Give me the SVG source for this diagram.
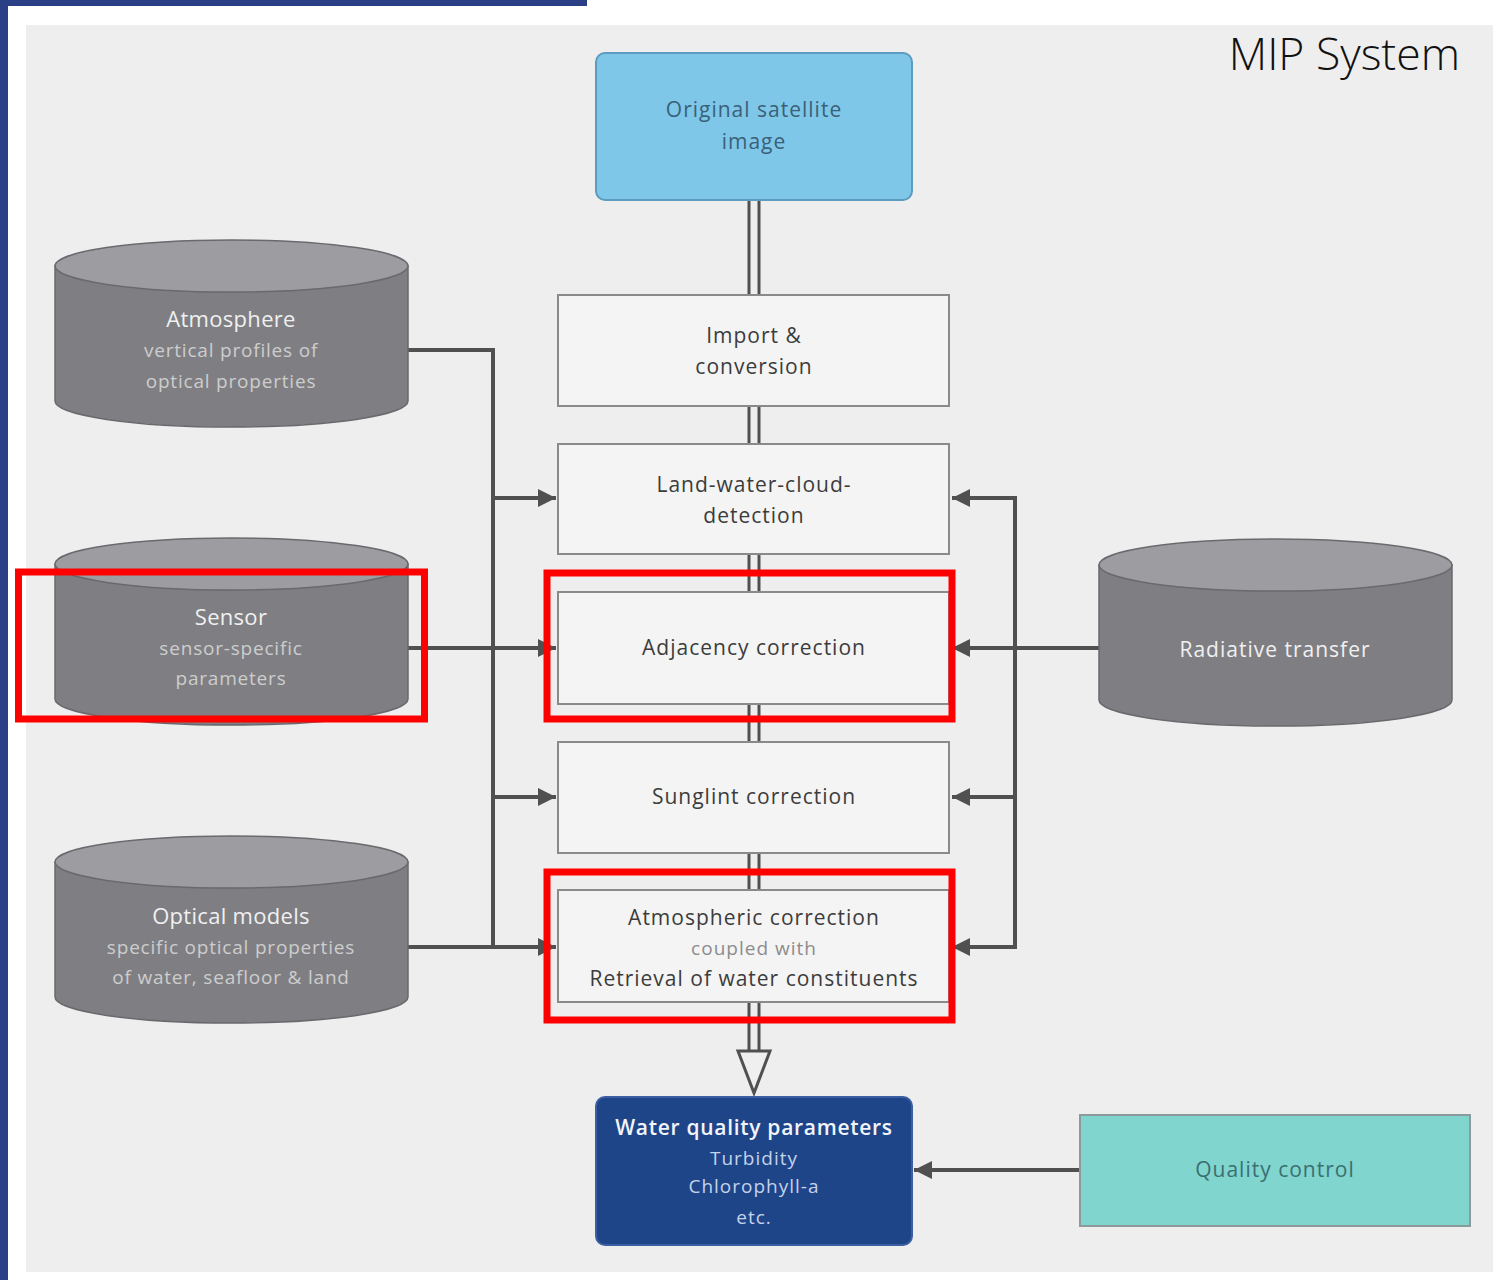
<svg xmlns="http://www.w3.org/2000/svg" width="1493" height="1280" viewBox="0 0 1493 1280">
<defs>
<marker id="ah" viewBox="0 0 10 10" refX="10" refY="5" markerWidth="5" markerHeight="4.5" markerUnits="strokeWidth" orient="auto">
<path d="M0,0 L10,5 L0,10 Z" fill="#505050"/>
</marker>
</defs>
<style>
.proc{fill:#f4f4f4;stroke:#8a8a8a;stroke-width:2}
.pt{font-family:"Open Sans","Noto Sans",sans-serif;font-size:21px;fill:#3c3c3c;text-anchor:middle;letter-spacing:1px}
.cylb{fill:#7f7f83;stroke:#6a6a6e;stroke-width:1.5}
.cylt{fill:#9d9da1;stroke:#6a6a6e;stroke-width:1.5}
.ct{font-family:"Open Sans","Noto Sans",sans-serif;font-size:22px;fill:#f0f0f0;text-anchor:middle;letter-spacing:0.3px}
.cs{font-family:"Open Sans","Noto Sans",sans-serif;font-size:19px;fill:#cdcdcd;text-anchor:middle;letter-spacing:0.8px}
.conn{fill:none;stroke:#505050;stroke-width:4}
.arr{fill:none;stroke:#505050;stroke-width:4;marker-end:url(#ah)}
.pipe{stroke:#505050;stroke-width:3}
.hl{fill:none;stroke:#ff0000;stroke-width:7}
</style>
<rect x="0" y="0" width="1493" height="1280" fill="#ffffff"/>
<rect x="26" y="25" width="1467" height="1247" fill="#eeeeee"/>
<rect x="0" y="0" width="8" height="1280" fill="#2b3f86"/>
<rect x="0" y="0" width="587" height="6" fill="#2b3f86"/>
<text x="1460" y="70" font-family="'Open Sans','Noto Sans',sans-serif" font-weight="300" font-size="44.5" fill="#111111" text-anchor="end">MIP System</text>

<g id="connectors">
<line class="pipe" x1="749" y1="200" x2="749" y2="1052"/>
<line class="pipe" x1="759" y1="200" x2="759" y2="1052"/>
<polygon points="738,1051 770,1051 754,1093" fill="#efefef" stroke="#505050" stroke-width="3" stroke-linejoin="miter"/>
<polyline class="conn" points="408,350 493,350 493,947"/>
<line class="arr" x1="493" y1="498" x2="556" y2="498"/>
<line class="arr" x1="408" y1="648" x2="556" y2="648"/>
<line class="arr" x1="493" y1="797" x2="556" y2="797"/>
<line class="arr" x1="408" y1="947" x2="556" y2="947"/>
<polyline class="conn" points="1015,498 1015,947"/>
<line class="arr" x1="1017" y1="498" x2="952" y2="498"/>
<line class="arr" x1="1099" y1="648" x2="952" y2="648"/>
<line class="arr" x1="1015" y1="797" x2="952" y2="797"/>
<line class="arr" x1="1017" y1="947" x2="952" y2="947"/>
<line class="arr" x1="1080" y1="1170" x2="914" y2="1170"/>
</g>

<g id="original">
<rect x="596" y="53" width="316" height="147" rx="9" fill="#7ec7e8" stroke="#5b9cc0" stroke-width="2"/>
<text class="pt" x="754" y="117" style="fill:#3b6079">Original satellite</text>
<text class="pt" x="754" y="149" style="fill:#3b6079">image</text>
</g>

<g id="import">
<rect class="proc" x="558" y="295" width="391" height="111"/>
<text class="pt" x="754" y="343">Import &amp;</text>
<text class="pt" x="754" y="374">conversion</text>
</g>

<g id="landwater">
<rect class="proc" x="558" y="444" width="391" height="110"/>
<text class="pt" x="754" y="492">Land-water-cloud-</text>
<text class="pt" x="754" y="523">detection</text>
</g>

<g id="adjacency">
<rect class="proc" x="558" y="592" width="391" height="112"/>
<text class="pt" x="754" y="655">Adjacency correction</text>
</g>

<g id="sunglint">
<rect class="proc" x="558" y="742" width="391" height="111"/>
<text class="pt" x="754" y="804">Sunglint correction</text>
</g>

<g id="atmcorr">
<rect class="proc" x="558" y="890" width="391" height="112"/>
<text class="pt" x="754" y="925">Atmospheric correction</text>
<text class="pt" x="754" y="955" style="fill:#8c8c8c;font-size:19px">coupled with</text>
<text class="pt" x="754" y="986">Retrieval of water constituents</text>
</g>

<g id="waterquality">
<rect x="596" y="1097" width="316" height="148" rx="9" fill="#1f4589" stroke="#3b5fa2" stroke-width="2"/>
<text class="pt" x="754" y="1135" style="fill:#f2f4fa;font-weight:600;letter-spacing:0.7px">Water quality parameters</text>
<text class="pt" x="754" y="1165" style="fill:#c4d2ec;font-size:19px">Turbidity</text>
<text class="pt" x="754" y="1193" style="fill:#c4d2ec;font-size:19px">Chlorophyll-a</text>
<text class="pt" x="754" y="1224" style="fill:#c4d2ec;font-size:19px">etc.</text>
</g>

<g id="quality">
<rect x="1080" y="1115" width="390" height="111" fill="#80d5cf" stroke="#8b9a9a" stroke-width="2"/>
<text class="pt" x="1275" y="1177" style="fill:#3b6f70">Quality control</text>
</g>

<g id="atmosphere">
<path class="cylb" d="M55,266 L55,401 A176.5,26 0 0 0 408,401 L408,266 Z"/>
<ellipse class="cylt" cx="231.5" cy="266" rx="176.5" ry="26"/>
<text class="ct" x="231" y="327">Atmosphere</text>
<text class="cs" x="231" y="357">vertical profiles of</text>
<text class="cs" x="231" y="388">optical properties</text>
</g>

<g id="sensor">
<path class="cylb" d="M55,564 L55,699 A176.5,26 0 0 0 408,699 L408,564 Z"/>
<ellipse class="cylt" cx="231.5" cy="564" rx="176.5" ry="26"/>
<text class="ct" x="231" y="625">Sensor</text>
<text class="cs" x="231" y="655">sensor-specific</text>
<text class="cs" x="231" y="685">parameters</text>
</g>

<g id="optical">
<path class="cylb" d="M55,862 L55,997 A176.5,26 0 0 0 408,997 L408,862 Z"/>
<ellipse class="cylt" cx="231.5" cy="862" rx="176.5" ry="26"/>
<text class="ct" x="231" y="924">Optical models</text>
<text class="cs" x="231" y="954">specific optical properties</text>
<text class="cs" x="231" y="984">of water, seafloor &amp; land</text>
</g>

<g id="radiative">
<path class="cylb" d="M1099,565 L1099,700 A176.5,26 0 0 0 1452,700 L1452,565 Z"/>
<ellipse class="cylt" cx="1275.5" cy="565" rx="176.5" ry="26"/>
<text class="ct" x="1275" y="657" style="font-size:21px;letter-spacing:1px">Radiative transfer</text>
</g>

<g id="highlights">
<rect class="hl" x="18.5" y="572" width="406" height="147"/>
<rect class="hl" x="547" y="573" width="405" height="146"/>
<rect class="hl" x="547" y="872" width="405" height="148"/>
</g>
</svg>
